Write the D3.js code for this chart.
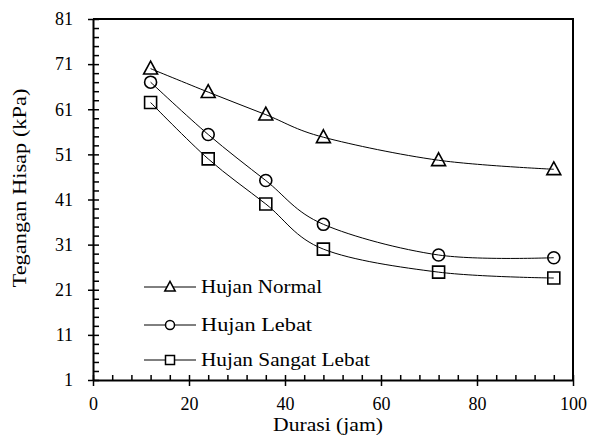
<!DOCTYPE html>
<html>
<head>
<meta charset="utf-8">
<script src="https://cdn.jsdelivr.net/npm/d3@7"></script>
<style>
  body { margin: 0; background: #fff; }
  svg text { font-family: "Liberation Serif", "Times New Roman", serif; fill: #000; }
</style>
</head>
<body>
<div id="chart"></div>
<script>
// data
var durasi = [12, 24, 36, 48, 72, 96];
var hujanNormal = [70, 64.8, 59.8, 54.8, 49.7, 47.7];
var hujanLebat = [67, 55.4, 45.2, 35.5, 28.7, 28.1];
var hujanSangatLebat = [62.5, 50, 40, 30, 24.9, 23.6];
var seriesNames = ["Hujan Normal", "Hujan Lebat", "Hujan Sangat Lebat"];
var seriesMarkers = ["triangle", "circle", "square"];
var xTicks = [0, 20, 40, 60, 80, 100];
var yTicks = [1, 11, 21, 31, 41, 51, 61, 71, 81];

var width = 590, height = 439;
var plotLeft = 93, plotRight = 573, plotTop = 19, plotBottom = 380;

var svg = d3.select("#chart").append("svg")
    .attr("width", width)
    .attr("height", height);

var xScale = d3.scaleLinear().domain([0, 100]).range([plotLeft, plotRight]);
var yScale = d3.scaleLinear().domain([1, 81]).range([plotBottom, plotTop]);

// minor ticks (inside)
var xMinor = d3.range(0, 101, 4).filter(function(v) { return v % 20 != 0; });
var yMinor = d3.range(1, 82, 2).filter(function(v) { return (v - 1) % 10 != 0; });

svg.append("g")
    .attr("transform", "translate(0," + plotBottom + ")")
    .call(d3.axisBottom(xScale).tickValues(xMinor).tickSize(-5).tickFormat(""))
    .call(function(g) { g.select(".domain").remove(); })
    .selectAll("line").attr("stroke-width", 1.5);

svg.append("g")
    .attr("transform", "translate(" + plotLeft + ",0)")
    .call(d3.axisLeft(yScale).tickValues(yMinor).tickSize(-6).tickFormat(""))
    .call(function(g) { g.select(".domain").remove(); })
    .selectAll("line").attr("stroke-width", 1.5);

// major axes
var xAxis = svg.append("g")
    .attr("transform", "translate(0," + plotBottom + ")")
    .call(d3.axisBottom(xScale).tickValues(xTicks).tickSizeOuter(0).tickPadding(11));
xAxis.selectAll(".tick line").attr("y1", -5).attr("y2", 6).attr("stroke-width", 1.5);
xAxis.select(".domain").attr("stroke-width", 2);
xAxis.selectAll("text").attr("font-size", 18);

var yAxis = svg.append("g")
    .attr("transform", "translate(" + plotLeft + ",0)")
    .call(d3.axisLeft(yScale).tickValues(yTicks).tickSizeOuter(0).tickPadding(14));
yAxis.selectAll(".tick line").attr("x1", -5).attr("x2", 6).attr("stroke-width", 1.5);
yAxis.select(".domain").attr("stroke-width", 2);
yAxis.selectAll("text").attr("font-size", 18);

// top and right border
svg.append("path")
    .attr("d", "M" + plotLeft + "," + plotTop + "H" + plotRight + "V" + plotBottom)
    .attr("fill", "none")
    .attr("stroke", "#000")
    .attr("stroke-width", 2);

// axis titles
svg.append("text")
    .attr("x", 328).attr("y", 431)
    .attr("text-anchor", "middle")
    .attr("font-size", 18)
    .attr("textLength", 110)
    .attr("lengthAdjust", "spacingAndGlyphs")
    .text("Durasi (jam)");

svg.append("text")
    .attr("transform", "translate(20,188) rotate(-90)")
    .attr("text-anchor", "middle")
    .attr("dy", "0.35em")
    .attr("font-size", 18)
    .attr("textLength", 199)
    .attr("lengthAdjust", "spacingAndGlyphs")
    .text("Tegangan Hisap (kPa)");

function markerPath(type, s) {
  if (type == "triangle") {
    return "M0," + (-s * 0.62) + "L" + (s * 0.58) + "," + (s * 0.45) + "L" + (-s * 0.58) + "," + (s * 0.45) + "Z";
  }
  if (type == "square") {
    return "M" + (-s / 2) + "," + (-s / 2) + "h" + s + "v" + s + "h" + (-s) + "Z";
  }
  var r = s / 2;
  return "M" + r + ",0A" + r + "," + r + " 0 1,1 " + (-r) + ",0A" + r + "," + r + " 0 1,1 " + r + ",0Z";
}

var allSeries = [hujanNormal, hujanLebat, hujanSangatLebat];

var line = d3.line()
    .x(function(d) { return xScale(d[0]); })
    .y(function(d) { return yScale(d[1]); })
    .curve(d3.curveCardinal.tension(0));

allSeries.forEach(function(vals, i) {
  var pts = durasi.map(function(x, j) { return [x, vals[j]]; });
  svg.append("path")
      .attr("d", line(pts))
      .attr("fill", "none")
      .attr("stroke", "#000")
      .attr("stroke-width", 1);

  svg.selectAll(".m" + i)
    .data(pts)
    .enter().append("path")
      .attr("transform", function(d) { return "translate(" + xScale(d[0]) + "," + yScale(d[1]) + ")"; })
      .attr("d", markerPath(seriesMarkers[i], 12))
      .attr("fill", "none")
      .attr("stroke", "#000")
      .attr("stroke-width", 1.6);
});

// legend
var legendY = [287, 325, 360];
var legendWidths = [121, 111, 169];
seriesNames.forEach(function(name, i) {
  var g = svg.append("g").attr("transform", "translate(0," + legendY[i] + ")");
  g.append("line")
      .attr("x1", 144).attr("x2", 196)
      .attr("stroke", "#000").attr("stroke-width", 1);
  g.append("path")
      .attr("transform", "translate(170,0)")
      .attr("d", markerPath(seriesMarkers[i], 9))
      .attr("fill", "#fff")
      .attr("stroke", "#000")
      .attr("stroke-width", 1.5);
  g.append("text")
      .attr("x", 201).attr("y", 0)
      .attr("dy", "0.35em")
      .attr("font-size", 18)
      .attr("textLength", legendWidths[i])
      .attr("lengthAdjust", "spacingAndGlyphs")
      .text(name);
});
</script>
</body>
</html>
